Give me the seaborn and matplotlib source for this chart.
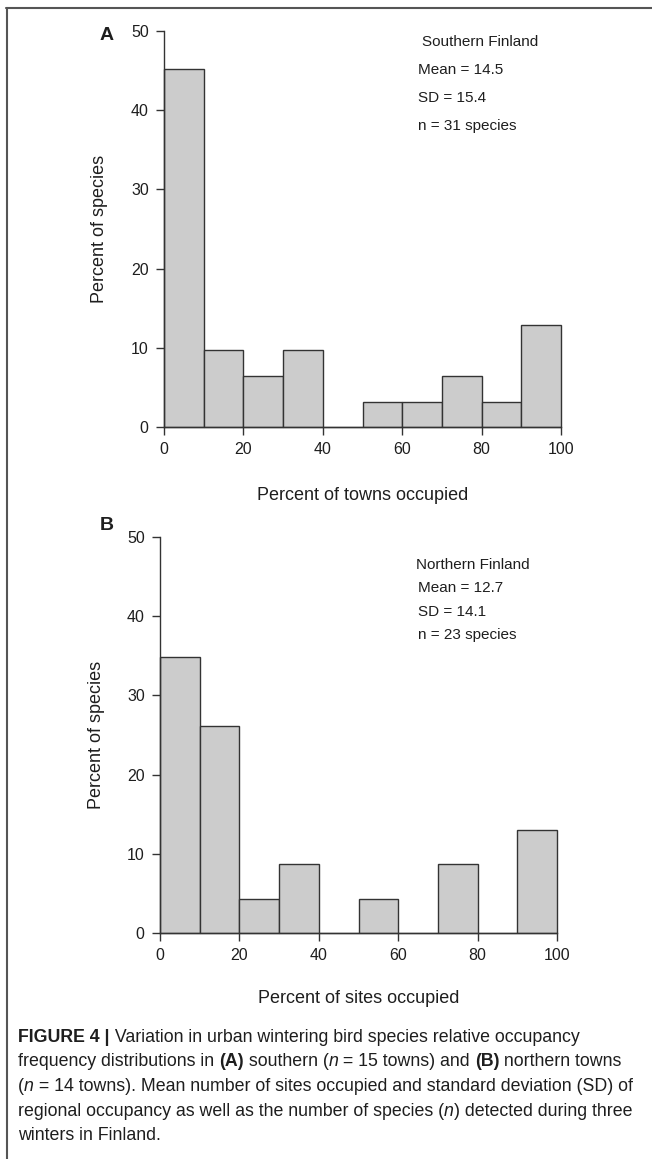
import matplotlib
matplotlib.use("Agg")
import matplotlib.pyplot as plt
from matplotlib.lines import Line2D
import seaborn as sns
import numpy as np

# ---------------- data ----------------
bin_edges = [0, 10, 20, 30, 40, 50, 60, 70, 80, 90, 100]
south_pct = [45.2, 9.7, 6.5, 9.7, 0.0, 3.2, 3.2, 6.5, 3.2, 12.9]
north_pct = [34.8, 26.1, 4.3, 8.7, 0.0, 4.3, 0.0, 8.7, 0.0, 13.0]
x_ticks = [0, 20, 40, 60, 80, 100]
y_ticks = [0, 10, 20, 30, 40, 50]
south_title = "Southern Finland"
south_stats = ["Mean = 14.5", "SD = 15.4", "n = 31 species"]
north_title = "Northern Finland"
north_stats = ["Mean = 12.7", "SD = 14.1", "n = 23 species"]
xlabel_a = "Percent of towns occupied"
xlabel_b = "Percent of sites occupied"
ylabel = "Percent of species"

W, H = 652, 1159
sns.set_style("ticks")
plt.rcParams['font.family'] = ['Liberation Sans', 'DejaVu Sans']
TXT = "#1e1e1e"

fig = plt.figure(figsize=(W / 100, H / 100), dpi=100)
fig.patch.set_facecolor("white")


def add_axes_px(left, right, top, bottom):
    return fig.add_axes([left / W, 1 - bottom / H, (right - left) / W, (bottom - top) / H])


def panel(ax, pct, xlabel):
    centers = [(a + b) / 2 for a, b in zip(bin_edges[:-1], bin_edges[1:])]
    sns.histplot(x=centers, weights=pct, bins=bin_edges, ax=ax, color="#cccccc",
                 edgecolor="#333333", linewidth=1.0, alpha=1.0, stat="count")
    for p in ax.patches:
        p.set_clip_on(False)
    ax.set_xlim(0, 100)
    ax.set_ylim(0, 50)
    ax.set_xticks(x_ticks)
    ax.set_yticks(y_ticks)
    sns.despine(ax=ax)
    ax.spines["left"].set_bounds(0, 50)
    ax.spines["bottom"].set_bounds(0, 100)
    for s in ("left", "bottom"):
        ax.spines[s].set_color("#333333")
        ax.spines[s].set_linewidth(1.0)
    ax.tick_params(axis="both", direction="out", length=6, width=1.0, color="#333333",
                   labelsize=11.5, labelcolor=TXT, pad=5)
    ax.set_xlabel(xlabel, fontsize=13, color=TXT)
    ax.set_ylabel(ylabel, fontsize=13, color=TXT)
    ax.set_facecolor("none")
    return ax


# Panel A
axA = add_axes_px(164, 561, 31, 427)
panel(axA, south_pct, xlabel_a)
axA.xaxis.set_label_coords(0.5, -(487 - 427) / 396)
axA.yaxis.set_label_coords(-(164 - 108) / 397, 0.5)

# Panel B
axB = add_axes_px(160, 557, 537, 933)
panel(axB, north_pct, xlabel_b)
axB.xaxis.set_label_coords(0.5, -(990 - 933) / 396)
axB.yaxis.set_label_coords(-(160 - 105) / 397, 0.5)


def ftext(x, y, s, **kw):
    fig.text(x / W, 1 - y / H, s, **kw)


# panel letters
ftext(107, 36, "A", fontsize=14, fontweight="bold", color=TXT, ha="center", va="center")
ftext(107, 526, "B", fontsize=14, fontweight="bold", color=TXT, ha="center", va="center")

# stats annotations
ftext(480, 42, south_title, fontsize=11, color=TXT, ha="center", va="center")
for i, s in enumerate(south_stats):
    ftext(418, 70 + i * 28, s, fontsize=11, color=TXT, ha="left", va="center")

ftext(473, 565, north_title, fontsize=11, color=TXT, ha="center", va="center")
for i, s in enumerate(north_stats):
    ftext(418, 588 + i * 23.5, s, fontsize=11, color=TXT, ha="left", va="center")

# frame lines
fig.add_artist(Line2D([6 / W, 1.0], [1 - 8 / H, 1 - 8 / H], transform=fig.transFigure,
                      color="#555555", lw=1.5))
fig.add_artist(Line2D([7 / W, 7 / W], [1 - 8 / H, 0.0], transform=fig.transFigure,
                      color="#555555", lw=1.5))

# caption with mixed styles
renderer = fig.canvas.get_renderer()
CAP_SIZE = 12.8


def seg_width(s, **kw):
    t1 = fig.text(0, 0, "x" + s + "x", fontsize=CAP_SIZE, **kw)
    w1 = t1.get_window_extent(renderer).width
    t1.remove()
    t2 = fig.text(0, 0, "xx", fontsize=CAP_SIZE, **kw)
    w2 = t2.get_window_extent(renderer).width
    t2.remove()
    return w1 - w2


def draw_line(y, parts):
    x = 18.0
    for s, style in parts:
        kw = {}
        if style == "b":
            kw["fontweight"] = "bold"
        elif style == "i":
            kw["fontstyle"] = "italic"
        fig.text(x / W, 1 - y / H, s, fontsize=CAP_SIZE, color=TXT, ha="left",
                 va="baseline", **kw)
        x += seg_width(s, **kw)


cap_lines = [
    [("FIGURE 4 |", "b"), (" Variation in urban wintering bird species relative occupancy", "r")],
    [("frequency distributions in ", "r"), ("(A)", "b"), (" southern (", "r"), ("n", "i"),
     (" = 15 towns) and ", "r"), ("(B)", "b"), (" northern towns", "r")],
    [("(", "r"), ("n", "i"), (" = 14 towns). Mean number of sites occupied and standard deviation (SD) of", "r")],
    [("regional occupancy as well as the number of species (", "r"), ("n", "i"),
     (") detected during three", "r")],
    [("winters in Finland.", "r")],
]
for i, parts in enumerate(cap_lines):
    draw_line(1042 + i * 24.5, parts)

fig.savefig("out.png", dpi=100, facecolor="white")
